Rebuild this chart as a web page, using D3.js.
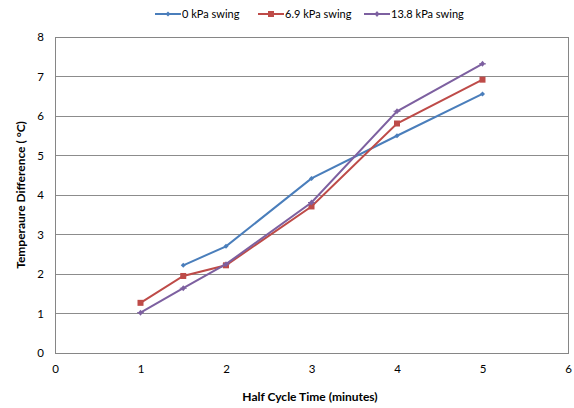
<!DOCTYPE html>
<html><head><meta charset="utf-8">
<script src="https://cdn.jsdelivr.net/npm/d3@7"></script>
<style>body{margin:0;background:#fff}svg{display:block;font-family:Lato,"Open Sans",sans-serif}</style>
</head><body>
<svg id="c" width="574" height="408"></svg>
<script>
const seriesNames = ["0 kPa swing", "6.9 kPa swing", "13.8 kPa swing"];
const x0kPa = [1.5, 2, 3, 4, 5];
const y0kPa = [2.22, 2.7, 4.42, 5.5, 6.56];
const x69kPa = [1, 1.5, 2, 3, 4, 5];
const y69kPa = [1.27, 1.95, 2.22, 3.71, 5.81, 6.92];
const x138kPa = [1, 1.5, 2, 3, 4, 5];
const y138kPa = [1.02, 1.64, 2.25, 3.81, 6.12, 7.32];
const xTicks = [0, 1, 2, 3, 4, 5, 6];
const yTicks = [0, 1, 2, 3, 4, 5, 6, 7, 8];
const colors = ["#4a7ebb", "#be4b48", "#7d60a0"];

const svg = d3.select("#c");
const L = 55, R = 568, T = 37, B = 353;
const x = d3.scaleLinear().domain([0, 6]).range([L, R]);
const y = d3.scaleLinear().domain([0, 8]).range([B, T]);

svg.append("g").selectAll("line").data(yTicks.slice(1, -1)).join("line")
  .attr("x1", L).attr("x2", R).attr("y1", d => y(d)).attr("y2", d => y(d))
  .attr("stroke", "#8c8c8c").attr("stroke-width", 1).attr("shape-rendering", "crispEdges");
svg.append("rect").attr("x", L).attr("y", T).attr("width", R - L).attr("height", B - T)
  .attr("fill", "none").attr("stroke", "#868686").attr("shape-rendering", "crispEdges");

const xa = svg.append("g").attr("transform", `translate(0,${B})`)
  .call(d3.axisBottom(x).tickValues(xTicks).tickSize(0).tickPadding(12).tickFormat(d3.format("d")));
const ya = svg.append("g").attr("transform", `translate(${L},0)`)
  .call(d3.axisLeft(y).tickValues(yTicks).tickSize(0).tickPadding(11).tickFormat(d3.format("d")));
[xa, ya].forEach(a => { a.select(".domain").remove(); a.selectAll("text").attr("font-size", 11.5).attr("fill", "#000").attr("font-family", "Lato, 'Open Sans', sans-serif"); });

svg.append("text").attr("x", 310).attr("y", 401).attr("text-anchor", "middle")
  .attr("font-size", 12).attr("font-weight", "bold").text("Half Cycle Time (minutes)");
svg.append("text").attr("transform", `translate(25,${(T + B) / 2}) rotate(-90)`).attr("text-anchor", "middle")
  .attr("font-size", 12).attr("font-weight", "bold").text("Temperaure Difference ( °C)");

const series = [
  { xs: x0kPa, ys: y0kPa, marker: "diamond" },
  { xs: x69kPa, ys: y69kPa, marker: "square" },
  { xs: x138kPa, ys: y138kPa, marker: "star" }
];
const line = d3.line().x(d => x(d[0])).y(d => y(d[1]));
function drawMarker(g, type, cx, cy, col) {
  if (type === "diamond") {
    g.append("path").attr("d", `M${cx},${cy-2.5}L${cx+2.5},${cy}L${cx},${cy+2.5}L${cx-2.5},${cy}Z`).attr("fill", col);
  } else if (type === "square") {
    g.append("rect").attr("x", cx - 3).attr("y", cy - 3).attr("width", 6).attr("height", 6).attr("fill", col);
  } else {
    g.append("path").attr("d", `M${cx},${cy-3}L${cx+2.5},${cy}L${cx},${cy+3}L${cx-2.5},${cy}Z`).attr("fill", col);
    g.append("path").attr("d", `M${cx-3.5},${cy}H${cx+3.5}`).attr("stroke", col).attr("stroke-width", 1);
  }
}
series.forEach((s, i) => {
  const pts = s.xs.map((v, j) => [v, s.ys[j]]);
  const g = svg.append("g");
  g.append("path").datum(pts).attr("d", line).attr("fill", "none").attr("stroke", colors[i]).attr("stroke-width", 2);
  pts.forEach(p => drawMarker(g, s.marker, x(p[0]), y(p[1]), colors[i]));
});

const legX = [155, 258, 364];
seriesNames.forEach((n, i) => {
  const g = svg.append("g");
  g.append("line").attr("x1", legX[i]).attr("x2", legX[i] + 26).attr("y1", 14).attr("y2", 14)
    .attr("stroke", colors[i]).attr("stroke-width", 2);
  drawMarker(g, series[i].marker, legX[i] + 13, 14, colors[i]);
  g.append("text").attr("x", legX[i] + 27).attr("y", 18).attr("font-size", 11).text(n);
});
</script>
</body></html>
